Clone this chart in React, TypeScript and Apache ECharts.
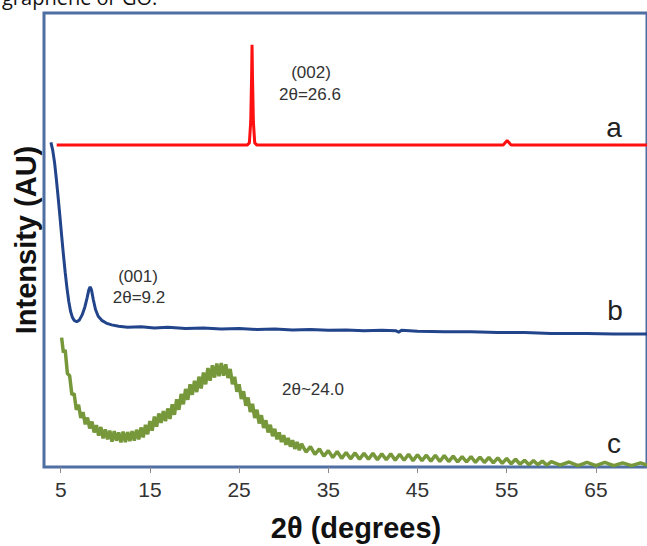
import React, { useEffect, useRef } from "react";
import * as echarts from "echarts";

// 2θ (degrees) vs relative intensity (arbitrary units, stacked offsets)
const seriesNames = ["a", "b", "c"];

const curveA: [number, number][] = [
  [4.55, 70.9], [25.9, 70.9], [26.15, 71.4], [26.3, 76.0], [26.4, 86.0], [26.45, 93.0],
  [26.5, 86.0], [26.6, 76.0], [26.75, 71.4], [27.0, 70.9], [54.6, 70.9], [54.9, 71.6],
  [55.05, 71.9], [55.2, 71.6], [55.5, 70.9], [70.73, 70.9],
];

const curveB: [number, number][] = [
  [3.9, 71.5], [4.1, 69.8], [4.3, 67.2], [4.5, 63.6], [4.7, 59.6], [4.9, 55.4],
  [5.1, 51.0], [5.3, 46.8], [5.5, 42.9], [5.7, 39.4], [5.9, 36.5], [6.1, 34.3],
  [6.3, 33.0], [6.5, 32.3], [6.8, 32.0], [7.1, 32.4], [7.4, 33.5], [7.7, 35.2],
  [7.95, 37.2], [8.15, 39.0], [8.3, 39.7], [8.45, 39.0], [8.65, 36.9], [8.9, 34.7],
  [9.2, 33.2], [9.6, 32.3], [10.1, 31.7], [10.7, 31.3], [11.5, 31.0], [12.5, 30.8],
  [14.0, 30.9], [15.5, 30.6], [17.0, 30.8], [19.0, 30.5], [21.0, 30.6], [23.0, 30.4],
  [25.0, 30.5], [27.0, 30.3], [29.0, 30.4], [31.0, 30.2], [33.0, 30.3], [35.0, 30.1],
  [37.0, 30.2], [39.0, 30.0], [41.0, 30.1], [42.6, 30.0], [42.9, 29.7], [43.2, 30.1],
  [45.0, 29.9], [48.0, 29.8], [51.0, 29.8], [54.0, 29.6], [57.0, 29.6], [60.0, 29.4],
  [64.0, 29.4], [67.0, 29.3], [70.73, 29.3],
];

const curveC: [number, number][] = [
  [5.1, 28.5], [5.3, 25.2], [5.5, 25.8], [5.75, 20.6], [6.0, 20.1], [6.25, 15.9],
  [6.5, 16.2], [6.75, 12.6], [7.0, 13.7], [7.25, 10.8], [7.5, 12.1], [7.75, 9.4],
  [8.0, 10.9], [8.25, 8.5], [8.5, 10.0], [8.75, 7.6], [9.0, 9.2], [9.25, 6.9],
  [9.5, 8.8], [9.75, 6.3], [10.0, 8.3], [10.25, 6.1], [10.5, 8.0], [10.75, 5.6],
  [11.0, 7.9], [11.25, 5.8], [11.5, 7.6], [11.75, 5.4], [12.0, 7.8], [12.25, 5.5],
  [12.5, 7.7], [12.75, 5.7], [13.0, 7.9], [13.25, 5.8], [13.5, 8.2], [13.75, 6.1],
  [14.0, 8.7], [14.25, 6.5], [14.5, 9.3], [14.75, 7.2], [15.0, 10.1], [15.25, 8.0],
  [15.5, 11.1], [15.75, 8.9], [16.0, 11.8], [16.25, 9.7], [16.5, 12.3], [16.75, 10.1],
  [17.0, 12.9], [17.25, 10.6], [17.5, 13.8], [17.75, 11.5], [18.0, 14.9], [18.25, 12.6],
  [18.5, 16.1], [18.75, 13.8], [19.0, 17.2], [19.25, 14.8], [19.5, 18.2], [19.75, 15.9],
  [20.0, 19.0], [20.25, 16.5], [20.5, 19.9], [20.75, 17.3], [21.0, 20.8], [21.25, 18.2],
  [21.5, 21.8], [21.75, 19.0], [22.0, 22.4], [22.25, 19.7], [22.5, 22.8], [22.75, 20.0],
  [23.0, 22.9], [23.25, 20.1], [23.5, 22.6], [23.75, 19.6], [24.0, 21.6], [24.25, 18.2],
  [24.5, 19.9], [24.75, 16.6], [25.0, 18.2], [25.25, 15.0], [25.5, 16.7], [25.75, 13.5],
  [26.0, 15.3], [26.25, 12.1], [26.5, 13.9], [26.75, 10.8], [27.0, 12.6], [27.25, 9.6],
  [27.5, 11.4], [27.75, 8.6], [28.0, 10.3], [28.25, 7.6], [28.5, 9.3], [28.75, 6.8],
  [29.0, 8.4], [29.25, 6.1], [29.5, 7.6], [29.75, 5.5], [30.0, 7.0], [30.25, 4.9],
  [30.5, 6.4], [30.75, 4.5], [31.0, 5.9], [31.25, 4.0], [31.5, 5.5], [31.75, 3.7],
  [32.0, 5.1], [32.5, 3.3], [33.0, 4.5], [33.5, 2.8], [34.0, 4.0], [34.5, 2.4],
  [35.0, 3.6], [35.5, 2.1], [36.0, 3.4], [36.5, 1.9], [37.0, 3.2], [37.5, 1.8],
  [38.0, 3.1], [38.5, 1.7], [39.0, 3.0], [39.5, 1.7], [40.0, 3.0], [40.5, 1.6],
  [41.0, 2.9], [41.5, 1.6], [42.0, 2.9], [42.5, 1.5], [43.0, 2.8], [43.5, 1.5],
  [44.0, 2.8], [44.5, 1.4], [45.0, 2.7], [45.5, 1.4], [46.0, 2.6], [46.5, 1.3],
  [47.0, 2.6], [47.5, 1.2], [48.0, 2.5], [48.5, 1.2], [49.0, 2.4], [49.5, 1.1],
  [50.0, 2.3], [50.5, 1.1], [51.0, 2.3], [51.5, 1.0], [52.0, 2.2], [52.5, 1.0],
  [53.0, 2.1], [53.5, 0.9], [54.0, 2.0], [54.5, 0.8], [55.0, 1.9], [55.5, 0.7],
  [56.0, 1.7], [56.5, 0.6], [57.0, 1.5], [57.5, 0.5], [58.0, 1.4], [58.5, 0.5],
  [59.0, 1.3], [59.5, 0.4], [60.0, 1.2], [61.0, 0.4], [62.0, 1.1], [63.0, 0.3],
  [64.0, 1.0], [65.0, 0.3], [66.0, 1.0], [67.0, 0.3], [68.0, 0.9], [69.0, 0.3],
  [70.0, 0.9], [70.73, 0.4],
];

const xTicks = [5, 15, 25, 35, 45, 55, 65];

const FONT = "'Liberation Sans', Arial, sans-serif";

export default function App() {
  const ref = useRef<HTMLDivElement>(null);

  useEffect(() => {
    if (!ref.current) return;
    const chart = echarts.init(ref.current, undefined, { renderer: "svg" });
    const txt = (x: number, y: number, text: string, size: number, extra: any = {}) => ({
      type: "text",
      x,
      y,
      style: {
        text,
        fontSize: size,
        fontFamily: FONT,
        fill: "#333",
        align: "center",
        verticalAlign: "middle",
        ...extra,
      },
    });
    chart.setOption({
      animation: false,
      backgroundColor: "#ffffff",
      grid: {
        left: 44,
        top: 13,
        right: -10,
        bottom: 79,
        show: true,
        borderColor: "#4f6fa3",
        borderWidth: 3,
        backgroundColor: "#ffffff",
        containLabel: false,
      },
      xAxis: {
        type: "value",
        min: 3.125,
        max: 70.73,
        axisLine: { show: false },
        axisTick: {
          show: true,
          customValues: xTicks,
          length: 6,
          lineStyle: { color: "#8a8a8a", width: 1 },
        },
        axisLabel: {
          customValues: xTicks,
          fontSize: 21,
          fontFamily: FONT,
          color: "#333",
          margin: 12,
        },
        splitLine: { show: false },
      },
      yAxis: {
        type: "value",
        min: 0,
        max: 100,
        axisLine: { show: false },
        axisTick: { show: false },
        axisLabel: { show: false },
        splitLine: { show: false },
      },
      series: [
        {
          name: seriesNames[2],
          type: "line",
          data: curveC,
          showSymbol: false,
          lineStyle: { color: "#76973a", width: 3.5 },
        },
        {
          name: seriesNames[1],
          type: "line",
          data: curveB,
          showSymbol: false,
          lineStyle: { color: "#22448a", width: 3 },
        },
        {
          name: seriesNames[0],
          type: "line",
          data: curveA,
          showSymbol: false,
          lineStyle: { color: "#ff1010", width: 3 },
        },
      ],
      graphic: [
        txt(2, -3, "graphene or GO.", 20, {
          align: "left",
          fill: "#111",
          fontFamily: "'Open Sans', sans-serif",
        }),
        {
          type: "text",
          x: 26,
          y: 240,
          rotation: Math.PI / 2,
          style: {
            text: "Intensity (AU)",
            fontSize: 29,
            fontWeight: "bold",
            fontFamily: FONT,
            fill: "#111",
            align: "center",
            verticalAlign: "middle",
          },
        },
        txt(356, 528, "2θ (degrees)", 29, { fontWeight: "bold", fill: "#111" }),
        txt(311, 72, "(002)", 17),
        txt(310, 94, "2θ=26.6", 17),
        txt(138, 276, "(001)", 17),
        txt(139, 297, "2θ=9.2", 17),
        txt(282, 389, "2θ~24.0", 17, { align: "left" }),
        txt(614, 127, "a", 28, { fill: "#222" }),
        txt(615, 310, "b", 28, { fill: "#222" }),
        txt(614, 443, "c", 28, { fill: "#222" }),
      ],
    });
    return () => chart.dispose();
  }, []);

  return (
    <div
      ref={ref}
      style={{ position: "fixed", left: 0, top: 0, width: 647, height: 546 }}
    />
  );
}
